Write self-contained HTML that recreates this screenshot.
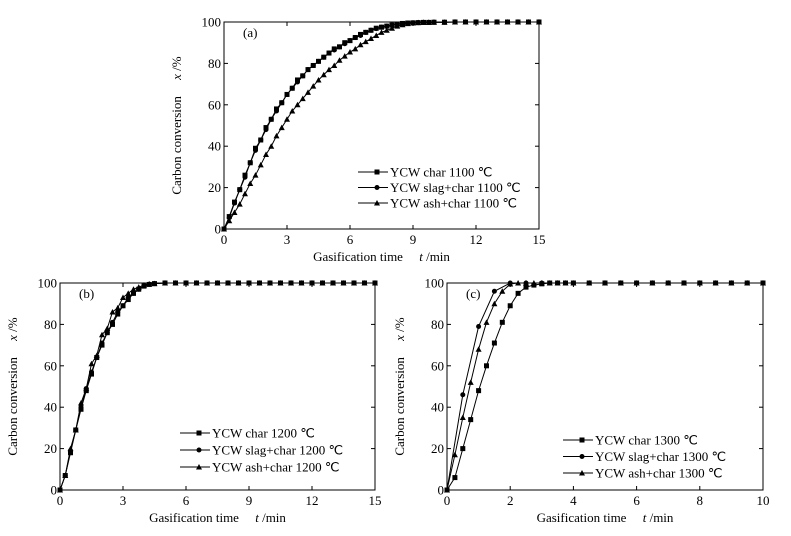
<!DOCTYPE html>
<html><head><meta charset="utf-8"><style>
body{margin:0;background:#fff}
svg{display:block;font-family:"Liberation Serif",serif}
</style></head><body>
<svg id="fig" width="791" height="536" viewBox="0 0 791 536" xmlns="http://www.w3.org/2000/svg"></svg>
<script>
// ---- Data: panel (a) 1100 C ----
const tA=[0,0.25,0.5,0.75,1,1.25,1.5,1.75,2,2.25,2.5,2.75,3,3.25,3.5,3.75,4,4.25,4.5,4.75,5,5.25,5.5,5.75,6,6.25,6.5,6.75,7,7.25,7.5,7.75,8,8.25,8.5,8.75,9,9.25,9.5,9.75,10,10.5,11,11.5,12,12.5,13,13.5,14,14.5,15];
const charA=[0,6,13,19,26,32,39,43,49,53,58,61,65,68,72,74,77,79,81,83,85,87,88,90,91,92.5,94,95,96,97,97.5,98,98.5,99,99.3,99.5,99.6,99.7,99.8,99.8,99.9,99.9,100,100,100,100,100,100,100,100,100];
const slagA=[0,5.5,12.5,19,25,32,38,43,48,53,57,61,65,68,71,74,77,79,81,83,85,86.5,88,89.5,91,92.5,93.5,95,96,96.8,97.5,98,98.5,99,99.3,99.5,99.6,99.7,99.8,99.8,99.9,99.9,100,100,100,100,100,100,100,100,100];
const ashA=[0,4,8,12,17,22,26,31,36,40,45,49,53,57,60,63,66,69,72,74.5,77,79,81.5,83.5,85.5,87,89,90.5,92,93.5,95,96,97,98,98.7,99.2,99.5,99.7,99.8,99.8,99.9,99.9,100,100,100,100,100,100,100,100,100];
// ---- Data: panel (b) 1200 C ----
const tB=[0,0.25,0.5,0.75,1,1.25,1.5,1.75,2,2.25,2.5,2.75,3,3.25,3.5,3.75,4,4.25,4.5,5,5.5,6,6.5,7,7.5,8,8.5,9,9.5,10,10.5,11,11.5,12,12.5,13,13.5,14,14.5,15];
const charB=[0,7,18,29,39,48,56,64,70,76,80,85,89,92,95,97,98.5,99.3,99.7,100,100,100,100,100,100,100,100,100,100,100,100,100,100,100,100,100,100,100,100,100];
const slagB=[0,7,19,29,40,49,57,64,71,76,81,86,89,93,95,97,98.7,99.4,99.7,100,100,100,100,100,100,100,100,100,100,100,100,100,100,100,100,100,100,100,100,100];
const ashB=[0,7,20,29,42,49,61,65,75,78,86,88,93,95,97,98,99,99.5,99.7,100,100,100,100,100,100,100,100,100,100,100,100,100,100,100,100,100,100,100,100,100];
// ---- Data: panel (c) 1300 C ----
const tC=[0,0.25,0.5,0.75,1,1.25,1.5,1.75,2,2.25,2.5,2.75,3,3.25,3.5,3.75,4,4.5,5,5.5,6,6.5,7,7.5,8,8.5,9,9.5,10];
const charC=[0,6,20,34,48,60,71,81,89,95,98,99,99.6,100,100,100,100,100,100,100,100,100,100,100,100,100,100,100,100];
const tCslag=[0,0.5,1,1.5,2,2.5,3,3.5,4,4.5,5,5.5,6,6.5,7,7.5,8,8.5,9,9.5,10];
const slagC=[0,46,79,96,100,100,100,100,100,100,100,100,100,100,100,100,100,100,100,100,100];
const ashC=[0,17,35,52,68,81,90,96,99.5,100,100,100,100,100,100,100,100,100,100,100,100,100,100,100,100,100,100,100,100];
const yTicks=[0,20,40,60,80,100];
const xTicks15=[0,3,6,9,12,15];
const xTicks10=[0,2,4,6,8,10];

const NS="http://www.w3.org/2000/svg";
const svg=document.getElementById('fig');
function mk(tag,attrs,parent){const e=document.createElementNS(NS,tag);for(const k in attrs)e.setAttribute(k,attrs[k]);(parent||svg).appendChild(e);return e;}
function txt(s,attrs,parent){const e=mk('text',attrs,parent);e.textContent=s;return e;}

function marker(g,type,x,y,s){
  let m;
  if(type==='sq') m=mk('rect',{x:x-s/2,y:y-s/2,width:s,height:s,fill:'#000'},g);
  else if(type==='ci') m=mk('circle',{cx:x,cy:y,r:s/2,fill:'#000'},g);
  else m=mk('polygon',{points:`${x},${y-s/2-0.5} ${x-s/2-0.5},${y+s/2} ${x+s/2+0.5},${y+s/2}`,fill:'#000'},g);
  return m;
}

function panel(cfg){
  const g=mk('g',{});
  
  
  const X=v=>cfg.x0+(v/cfg.xmax)*(cfg.x1-cfg.x0);
  const Y=v=>cfg.y0-(v/100)*(cfg.y0-cfg.y1);
  const fr=mk('rect',{x:cfg.x0,y:cfg.y1,width:cfg.x1-cfg.x0,height:cfg.y0-cfg.y1,fill:'none',stroke:'#000','stroke-width':1},g);
  
  yTicks.forEach(v=>{
    mk('line',{x1:cfg.x0,x2:cfg.x0+4,y1:Y(v),y2:Y(v),stroke:'#000'},g);
    mk('line',{x1:cfg.x1,x2:cfg.x1-4,y1:Y(v),y2:Y(v),stroke:'#000'},g);
    const t=txt(String(v),{x:cfg.x0-3,y:Y(v)+4.5,'text-anchor':'end','font-size':13},g);
    
  });
  cfg.xt.forEach(v=>{
    mk('line',{x1:X(v),x2:X(v),y1:cfg.y0,y2:cfg.y0-4,stroke:'#000'},g);
    mk('line',{x1:X(v),x2:X(v),y1:cfg.y1,y2:cfg.y1+4,stroke:'#000'},g);
    const t=txt(String(v),{x:X(v),y:cfg.y0+15,'text-anchor':'middle','font-size':13},g);
    
  });
  const lab=txt('('+cfg.id+')',{x:cfg.x0+19,y:cfg.y1+15,'font-size':13},g);
  
  const xt=txt('',{x:(cfg.x0+cfg.x1)/2,y:cfg.y0+32,'text-anchor':'middle','font-size':13},g);
  
  xt.innerHTML='Gasification time\u00a0\u00a0\u00a0\u00a0 <tspan font-style="italic">t</tspan> /min';
  const yx=cfg.x0-43, yc=(cfg.y0+cfg.y1)/2;
  const yt=txt('',{x:yx,y:yc,'text-anchor':'middle','font-size':13,transform:`rotate(-90 ${yx} ${yc})`},g);
  
  yt.innerHTML='Carbon conversion\u00a0\u00a0\u00a0\u00a0 <tspan font-style="italic">x</tspan> /%';
  cfg.series.forEach((s,i)=>{
    const ts=s.t||cfg.t;
    const sg=mk('g',{},g);
    
    const pts=ts.map((tv,j)=>X(tv)+','+Y(s.v[j])).join(' ');
    const pl=mk('polyline',{points:pts,fill:'none',stroke:'#000','stroke-width':1},sg);
    
    ts.forEach((tv,j)=>{
      const m=marker(sg,s.m,X(tv),Y(s.v[j]),5);
      
      
    });
    const ly=cfg.ly+i*cfg.lgap;
    const lg=mk('g',{},g);
    
    mk('line',{x1:cfg.lx,x2:cfg.lx+30,y1:ly,y2:ly,stroke:'#000'},lg);
    marker(lg,s.m,cfg.lx+19,ly,5);
    txt(s.label,{x:cfg.lx+32,y:ly+4.5,'font-size':13},lg);
  });
}
panel({id:'a',x0:224,x1:539,y0:229,y1:22,xmax:15,xt:xTicks15,t:tA,lx:358,ly:172,lgap:15.5,
  series:[{name:'char',m:'sq',v:charA,label:'YCW char 1100 \u2103'},{name:'slag-char',m:'ci',v:slagA,label:'YCW slag+char 1100 \u2103'},{name:'ash-char',m:'tr',v:ashA,label:'YCW ash+char 1100 \u2103'}]});
panel({id:'b',x0:60,x1:375,y0:490,y1:283,xmax:15,xt:xTicks15,t:tB,lx:180,ly:433,lgap:17,
  series:[{name:'char',m:'sq',v:charB,label:'YCW char 1200 \u2103'},{name:'slag-char',m:'ci',v:slagB,label:'YCW slag+char 1200 \u2103'},{name:'ash-char',m:'tr',v:ashB,label:'YCW ash+char 1200 \u2103'}]});
panel({id:'c',x0:447,x1:763,y0:490,y1:283,xmax:10,xt:xTicks10,t:tC,lx:563,ly:440,lgap:16.5,
  series:[{name:'char',m:'sq',v:charC,label:'YCW char 1300 \u2103'},{name:'slag-char',m:'ci',v:slagC,t:tCslag,label:'YCW slag+char 1300 \u2103'},{name:'ash-char',m:'tr',v:ashC,label:'YCW ash+char 1300 \u2103'}]});
</script>
</body></html>
